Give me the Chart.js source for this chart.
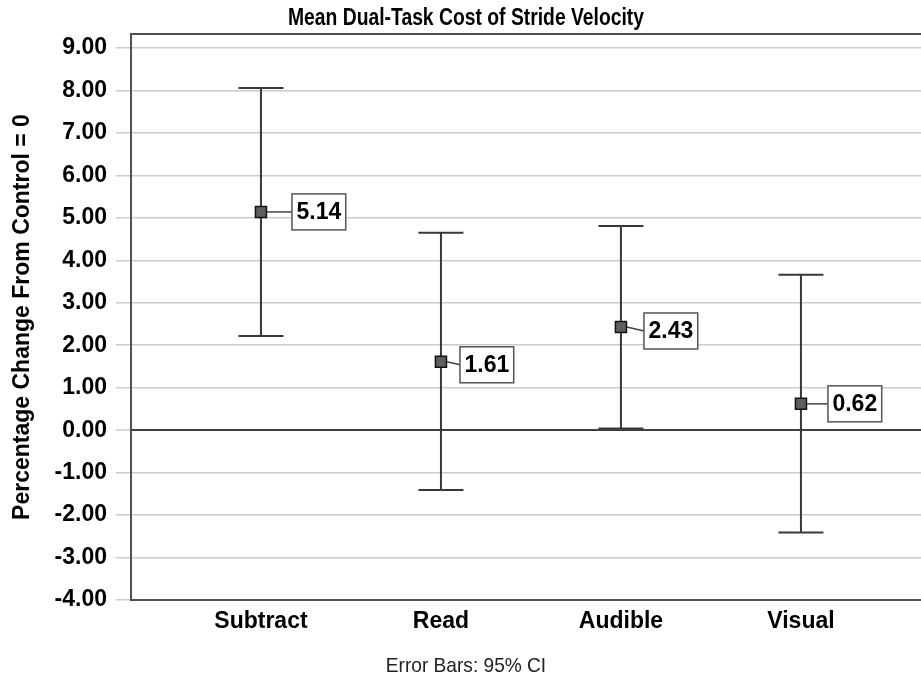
<!DOCTYPE html>
<html>
<head>
<meta charset="utf-8">
<script src="https://cdn.jsdelivr.net/npm/chart.js@4.4.1/dist/chart.umd.min.js"></script>
<style>
  html, body { margin: 0; padding: 0; background: #fff; }
  canvas { display: block; }
</style>
</head>
<body>
<canvas id="chart" width="921" height="679"></canvas>
<script>
// Mean dual-task cost per condition with 95% confidence interval
const categories = ['Subtract', 'Read', 'Audible', 'Visual'];
const means = [5.14, 1.61, 2.43, 0.62];
const ciLower = [2.22, -1.41, 0.04, -2.41];
const ciUpper = [8.06, 4.65, 4.81, 3.66];
const yTickValues = [-4, -3, -2, -1, 0, 1, 2, 3, 4, 5, 6, 7, 8, 9];

const chartTitle = 'Mean Dual-Task Cost of Stride Velocity';
const footNote = 'Error Bars: 95% CI';

const FONT = "'Liberation Sans', Arial, sans-serif";

// where each value callout sits relative to its marker
const calloutOffsets = [
  { dx: 31, dy: 0 },
  { dx: 19, dy: 3 },
  { dx: 23, dy: 4 },
  { dx: 27, dy: 0 }
];

// condensed heading and footnote text
const headings = {
  id: 'headings',
  afterDraw(chart) {
    const { ctx } = chart;
    ctx.save();
    ctx.fillStyle = '#000';
    ctx.textBaseline = 'middle';
    ctx.textAlign = 'center';

    ctx.save();
    ctx.font = 'bold 23px ' + FONT;
    ctx.translate(466, 19);
    ctx.scale(0.84, 1);
    ctx.fillText(chartTitle, 0, 0);
    ctx.restore();

    ctx.save();
    ctx.fillStyle = '#222';
    ctx.font = '21px ' + FONT;
    ctx.translate(466, 666);
    ctx.scale(0.91, 1);
    ctx.fillText(footNote, 0, 0);
    ctx.restore();

    ctx.restore();
  }
};

const frameAndErrorBars = {
  id: 'frameAndErrorBars',
  beforeDatasetsDraw(chart) {
    const { ctx, chartArea: a, scales: { x, y } } = chart;
    ctx.save();
    // plot frame (top, left, bottom)
    ctx.strokeStyle = '#505050';
    ctx.lineWidth = 2;
    ctx.beginPath();
    ctx.moveTo(a.right + 2, a.top);
    ctx.lineTo(a.left, a.top);
    ctx.lineTo(a.left, a.bottom);
    ctx.lineTo(a.right + 2, a.bottom);
    ctx.stroke();

    // confidence interval whiskers
    ctx.strokeStyle = '#383838';
    ctx.lineWidth = 2;
    const cap = 22.5;
    categories.forEach((c, i) => {
      const px = x.getPixelForValue(i + 1);
      const top = y.getPixelForValue(ciUpper[i]);
      const bot = y.getPixelForValue(ciLower[i]);
      ctx.beginPath();
      ctx.moveTo(px, top);
      ctx.lineTo(px, bot);
      ctx.moveTo(px - cap, top);
      ctx.lineTo(px + cap, top);
      ctx.moveTo(px - cap, bot);
      ctx.lineTo(px + cap, bot);
      ctx.stroke();
    });
    ctx.restore();
  }
};

const valueCallouts = {
  id: 'valueCallouts',
  afterDatasetsDraw(chart) {
    const { ctx, scales: { x, y } } = chart;
    ctx.save();
    ctx.font = 'bold 23px ' + FONT;
    ctx.textAlign = 'center';
    ctx.textBaseline = 'middle';
    means.forEach((m, i) => {
      const px = x.getPixelForValue(i + 1);
      const py = y.getPixelForValue(m);
      const off = calloutOffsets[i];
      const text = m.toFixed(2);
      const w = ctx.measureText(text).width + 9;
      const h = 36;
      const bx = px + off.dx;
      const by = py + off.dy;
      ctx.strokeStyle = '#444';
      ctx.lineWidth = 1.5;
      ctx.beginPath();
      ctx.moveTo(px + 6, py);
      ctx.lineTo(bx, by);
      ctx.stroke();
      ctx.fillStyle = '#fff';
      ctx.fillRect(bx, by - h / 2, w, h);
      ctx.strokeStyle = '#555';
      ctx.strokeRect(bx, by - h / 2, w, h);
      ctx.fillStyle = '#000';
      ctx.fillText(text, bx + w / 2, by + 1);
    });
    ctx.restore();
  }
};

new Chart(document.getElementById('chart'), {
  type: 'scatter',
  data: {
    datasets: [{
      data: means.map((m, i) => ({ x: i + 1, y: m })),
      pointStyle: 'rect',
      pointRadius: 7.8,
      pointHoverRadius: 7.8,
      backgroundColor: '#5e5e5e',
      borderColor: '#111',
      borderWidth: 1.5,
      showLine: false
    }]
  },
  options: {
    responsive: false,
    animation: false,
    devicePixelRatio: 1,
    layout: { autoPadding: false, padding: { top: 34, bottom: 43.4, left: 0, right: 0 } },
    plugins: {
      legend: { display: false },
      tooltip: { enabled: false },
      title: { display: false }
    },
    scales: {
      x: {
        type: 'linear',
        min: 0.278,
        max: 4.667,
        afterBuildTicks: s => { s.ticks = categories.map((c, i) => ({ value: i + 1 })); },
        afterFit: s => { s.paddingLeft = 0; s.paddingRight = 0; s.height = 35.6; },
        ticks: {
          autoSkip: false,
          maxRotation: 0,
          padding: 8,
          color: '#000',
          font: { family: FONT, size: 23, weight: 'bold' },
          callback: v => categories[Math.round(v) - 1]
        },
        grid: { display: false, drawTicks: false },
        border: { display: false }
      },
      y: {
        type: 'linear',
        min: -4,
        max: 9.33,
        afterBuildTicks: s => { s.ticks = yTickValues.map(v => ({ value: v })); },
        afterFit: s => { s.width = 131; },
        ticks: {
          padding: 9,
          color: '#000',
          font: { family: FONT, size: 23, weight: 'bold' },
          callback: v => Number(v).toFixed(2)
        },
        grid: {
          color: c => (c.tick && c.tick.value === 0) ? '#404040' : '#cccccc',
          lineWidth: c => (c.tick && c.tick.value === 0) ? 2 : 1.5,
          drawTicks: true,
          tickLength: 15,
          tickColor: '#cccccc',
          tickWidth: 1.5
        },
        border: { display: false },
        title: {
          display: true,
          text: 'Percentage Change From Control = 0',
          color: '#000',
          font: { family: FONT, size: 23, weight: 'bold' },
          padding: { top: 9, bottom: 18 }
        }
      }
    }
  },
  plugins: [frameAndErrorBars, valueCallouts, headings]
});
</script>
</body>
</html>
